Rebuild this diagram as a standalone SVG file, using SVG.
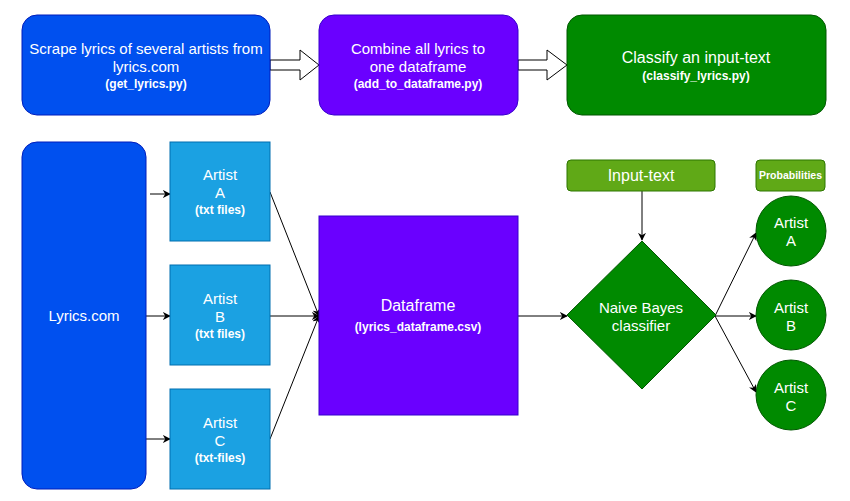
<svg xmlns="http://www.w3.org/2000/svg" width="850" height="501" viewBox="0 0 850 501">
<style>
text{font-family:"Liberation Sans",Arial,sans-serif;fill:#fff;text-anchor:middle}
.m{font-size:15px}
.l{font-size:16px}
.s{font-size:12px;font-weight:bold}
.blue{fill:#0050ef;stroke:#001dbc}
.purple{fill:#6a00ff;stroke:#3700cc}
.green{fill:#008a00;stroke:#005700}
.lgreen{fill:#60a917;stroke:#2d7600}
.cyan{fill:#1ba1e2;stroke:#006eaf}
.c{stroke:#000;stroke-width:1;fill:none;marker-end:url(#ah)}
.blk{fill:#fff;stroke:#000;stroke-width:1}
</style>
<defs>
<marker id="ah" viewBox="0 0 10 10" refX="9" refY="5" markerWidth="8" markerHeight="8" orient="auto" markerUnits="userSpaceOnUse">
<path d="M0,0 L10,5 L0,10 L3,5 Z" fill="#000"/>
</marker>
</defs>
<rect width="850" height="501" fill="#fff"/>
<g id="connectors">
<path class="blk" d="M270,60 H300 V50 L319,65 L300,80 V70 H270 Z"/>
<path class="blk" d="M518,60 H547 V50 L567,65 L547,80 V70 H518 Z"/>
<line class="c" x1="150" y1="194" x2="170" y2="194"/>
<line class="c" x1="146" y1="316" x2="170" y2="316"/>
<line class="c" x1="146" y1="439" x2="170" y2="439"/>
<line class="c" x1="270" y1="192" x2="319" y2="316"/>
<line class="c" x1="270" y1="316" x2="319" y2="316"/>
<line class="c" x1="270" y1="439" x2="319" y2="316"/>
<line class="c" x1="518" y1="316" x2="567" y2="316"/>
<line class="c" x1="642" y1="191" x2="642" y2="240"/>
<line class="c" x1="715" y1="316" x2="756" y2="233"/>
<line class="c" x1="715" y1="316" x2="756" y2="316"/>
<line class="c" x1="715" y1="316" x2="756" y2="392"/>
</g>
<g id="scrape">
<rect class="blue" x="22" y="15" width="248" height="100" rx="15"/>
<text class="m" x="146" y="54">Scrape lyrics of several artists from</text>
<text class="m" x="146" y="72">lyrics.com</text>
<text class="s" x="146" y="88">(get_lyrics.py)</text>
</g>
<g id="combine">
<rect class="purple" x="319" y="15" width="199" height="100" rx="15"/>
<text class="m" x="418" y="54">Combine all lyrics to</text>
<text class="m" x="418" y="72">one dataframe</text>
<text class="s" x="418" y="88">(add_to_dataframe.py)</text>
</g>
<g id="classify">
<rect class="green" x="567" y="15" width="259" height="100" rx="15"/>
<text class="l" x="696" y="63">Classify an input-text</text>
<text class="s" x="696" y="80">(classify_lyrics.py)</text>
</g>
<g id="lyricscom">
<rect class="blue" x="22" y="142" width="124" height="347" rx="15"/>
<text class="m" x="84" y="321">Lyrics.com</text>
</g>
<g id="artistA">
<rect class="cyan" x="170" y="142" width="100" height="99"/>
<text class="m" x="220" y="180">Artist</text>
<text class="m" x="220" y="198">A</text>
<text class="s" x="220" y="214">(txt files)</text>
</g>
<g id="artistB">
<rect class="cyan" x="170" y="265" width="100" height="100"/>
<text class="m" x="220" y="304">Artist</text>
<text class="m" x="220" y="322">B</text>
<text class="s" x="220" y="338">(txt files)</text>
</g>
<g id="artistC">
<rect class="cyan" x="170" y="389" width="100" height="100"/>
<text class="m" x="220" y="428">Artist</text>
<text class="m" x="220" y="446">C</text>
<text class="s" x="220" y="462">(txt-files)</text>
</g>
<g id="dataframe">
<rect class="purple" x="319" y="216" width="199" height="199"/>
<text class="l" x="418" y="311">Dataframe</text>
<text class="s" x="418" y="331">(lyrics_dataframe.csv)</text>
</g>
<g id="inputtext">
<rect class="lgreen" x="567" y="160" width="148" height="31" rx="4"/>
<text class="l" x="641" y="181">Input-text</text>
</g>
<g id="naivebayes">
<path class="green" d="M642,241 L716,315 L642,389 L567,315 Z"/>
<text class="m" x="641" y="313">Naive Bayes</text>
<text class="m" x="641" y="331">classifier</text>
</g>
<g id="probabilities">
<rect class="lgreen" x="756" y="160" width="69" height="31" rx="4"/>
<text x="790.5" y="179" style="font-size:10.5px;font-weight:bold">Probabilities</text>
</g>
<g id="probA">
<circle class="green" cx="791" cy="231" r="35"/>
<text class="m" x="791" y="228">Artist</text>
<text class="m" x="791" y="246">A</text>
</g>
<g id="probB">
<circle class="green" cx="791" cy="315" r="35"/>
<text class="m" x="791" y="313">Artist</text>
<text class="m" x="791" y="331">B</text>
</g>
<g id="probC">
<circle class="green" cx="791" cy="395" r="35"/>
<text class="m" x="791" y="393">Artist</text>
<text class="m" x="791" y="411">C</text>
</g>
</svg>
